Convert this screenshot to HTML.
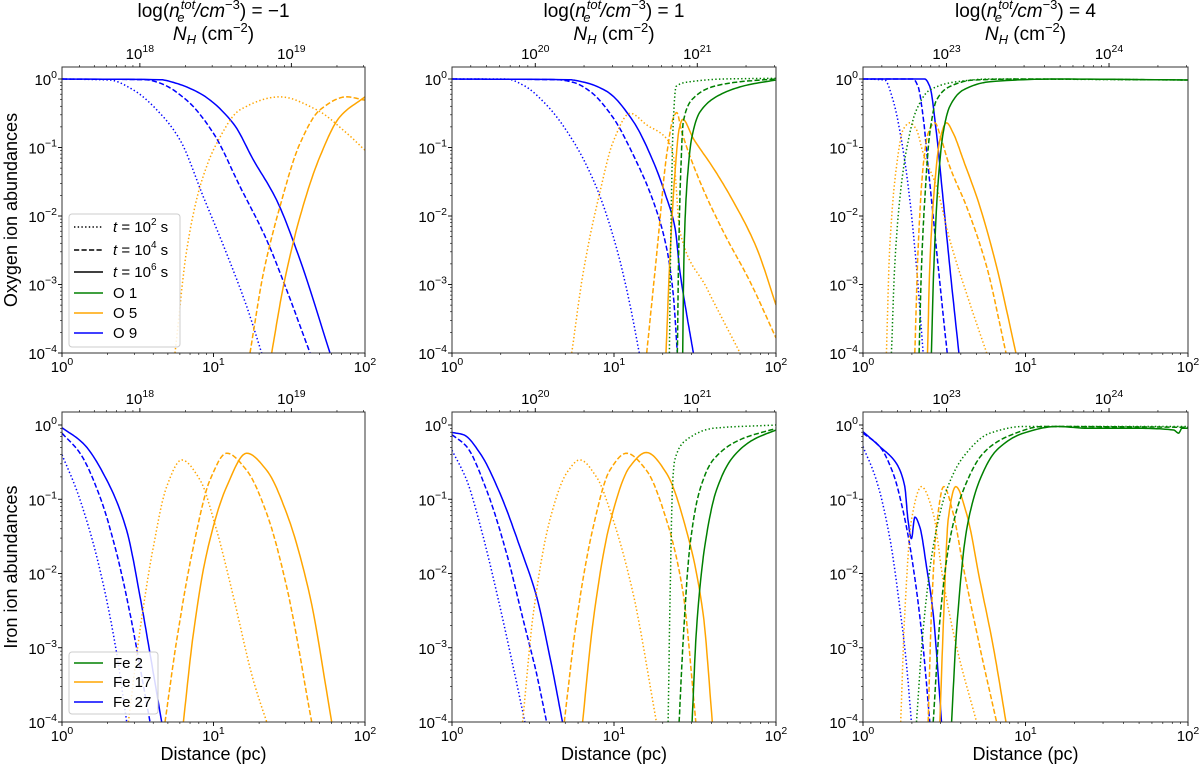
<!DOCTYPE html>
<html><head><meta charset="utf-8"><style>
html,body{margin:0;padding:0;background:#fff}
svg{display:block;font-family:"Liberation Sans","DejaVu Sans",sans-serif}
</style></head><body>
<svg id="fig" width="1200" height="766" viewBox="0 0 1200 766" xmlns="http://www.w3.org/2000/svg"></svg>
<script>
// ---- data: [log10 distance (pc), log10 abundance] ----
// Panel 1: Oxygen, log n = -1
const p1_O9_t2=[[0,0],[0.317,-0.015],[0.471,-0.16],[0.647,-0.5],[0.779,-0.89],[0.933,-1.72],[1.087,-2.55],[1.219,-3.32],[1.318,-4]];
const p1_O9_t4=[[0,0],[0.55,-0.01],[0.647,-0.06],[0.823,-0.31],[0.999,-0.79],[1.175,-1.57],[1.351,-2.35],[1.483,-3.08],[1.637,-4]];
const p1_O9_t6=[[0,0],[0.65,-0.01],[0.735,-0.05],[0.911,-0.21],[1.131,-0.65],[1.263,-1.18],[1.417,-1.77],[1.571,-2.64],[1.769,-4]];
const p1_O5_t2=[[0.746,-4],[0.823,-2.5],[0.911,-1.57],[1.021,-0.94],[1.175,-0.45],[1.439,-0.26],[1.681,-0.45],[1.879,-0.79],[2.0,-1.04]];
const p1_O5_t4=[[1.241,-4],[1.329,-2.84],[1.439,-1.86],[1.571,-0.94],[1.703,-0.45],[1.879,-0.26],[2.0,-0.31]];
const p1_O5_t6=[[1.384,-4],[1.461,-3.03],[1.571,-2.01],[1.703,-1.13],[1.835,-0.55],[2.0,-0.26]];
// Panel 2: Oxygen, log n = 1
const p2_O9_t2=[[0,0],[0.337,0],[0.44,-0.09],[0.584,-0.38],[0.749,-0.91],[0.893,-1.59],[1.016,-2.47],[1.099,-3.3],[1.156,-4]];
const p2_O9_t4=[[0,0],[0.65,-0.01],[0.75,-0.05],[0.852,-0.18],[0.996,-0.57],[1.119,-1.11],[1.243,-1.79],[1.325,-2.47],[1.366,-3.15],[1.391,-4]];
const p2_O9_t6=[[0,0],[0.72,-0.01],[0.82,-0.05],[0.955,-0.18],[1.119,-0.62],[1.243,-1.21],[1.325,-1.74],[1.377,-2.18],[1.407,-2.81],[1.449,-3.44],[1.49,-4]];
const p2_O5_t2=[[0.739,-4],[0.811,-2.81],[0.914,-1.64],[0.996,-0.91],[1.099,-0.5],[1.202,-0.67],[1.325,-0.87],[1.366,-1.11],[1.407,-2.23],[1.572,-3.05],[1.778,-4]];
const p2_O5_t4=[[1.202,-4],[1.263,-2.57],[1.325,-1.11],[1.366,-0.57],[1.387,-0.49],[1.418,-0.77],[1.531,-1.5],[1.675,-2.23],[1.84,-2.96],[2.0,-3.78]];
const p2_O5_t6=[[1.321,-4],[1.346,-2.57],[1.377,-1.35],[1.403,-0.72],[1.424,-0.59],[1.49,-0.87],[1.613,-1.3],[1.737,-1.79],[1.881,-2.47],[2.0,-3.3]];
const p2_O1_t2=[[1.342,-4],[1.352,-2.08],[1.366,-0.62],[1.383,-0.11],[1.469,-0.04],[1.675,0],[2.0,0.01]];
const p2_O1_t4=[[1.391,-4],[1.399,-2.57],[1.412,-1.35],[1.428,-0.62],[1.49,-0.28],[1.613,-0.11],[1.778,-0.04],[2.0,0]];
const p2_O1_t6=[[1.424,-4],[1.432,-2.57],[1.449,-1.59],[1.479,-0.87],[1.531,-0.48],[1.654,-0.23],[1.819,-0.09],[2.0,-0.015]];
// Panel 3: Oxygen, log n = 4
const p3_O9_t2=[[0,0],[0.134,-0.015],[0.185,-0.31],[0.247,-1.04],[0.288,-1.76],[0.329,-2.74],[0.37,-4]];
const p3_O9_t4=[[0,0],[0.308,0],[0.339,-0.11],[0.37,-0.55],[0.401,-1.28],[0.432,-2.01],[0.473,-2.98],[0.518,-4]];
const p3_O9_t6=[[0,0],[0.38,0],[0.411,-0.11],[0.452,-0.79],[0.493,-1.76],[0.534,-2.74],[0.59,-4]];
const p3_O5_t2=[[0.144,-4],[0.164,-2.49],[0.206,-1.28],[0.247,-0.74],[0.288,-0.64],[0.329,-0.74],[0.37,-1.08],[0.452,-1.57],[0.534,-2.35],[0.637,-3.13],[0.761,-4]];
const p3_O5_t4=[[0.319,-4],[0.339,-2.49],[0.37,-1.28],[0.401,-0.79],[0.442,-0.64],[0.483,-0.89],[0.534,-1.28],[0.637,-1.86],[0.761,-2.74],[0.88,-4]];
const p3_O5_t6=[[0.397,-4],[0.411,-2.74],[0.442,-1.52],[0.473,-0.89],[0.514,-0.64],[0.555,-0.79],[0.617,-1.18],[0.719,-1.86],[0.822,-2.74],[0.941,-4]];
const p3_O1_t2=[[0.175,-4],[0.195,-2.74],[0.226,-1.76],[0.267,-1.04],[0.329,-0.45],[0.411,-0.16],[0.576,-0.04],[0.781,0],[2.0,-0.015]];
const p3_O1_t4=[[0.345,-4],[0.36,-2.74],[0.38,-1.76],[0.411,-0.79],[0.452,-0.31],[0.534,-0.11],[0.678,-0.015],[0.987,0],[2.0,-0.015]];
const p3_O1_t6=[[0.421,-4],[0.436,-2.74],[0.462,-1.52],[0.493,-0.79],[0.534,-0.4],[0.617,-0.16],[0.781,-0.04],[1.192,0],[2.0,-0.015]];
// Panel 4: Iron, log n = -1
const p4_Fe27_t2=[[0,-0.4],[0.097,-0.88],[0.207,-1.6],[0.295,-2.36],[0.361,-3.08],[0.427,-4]];
const p4_Fe27_t4=[[0,-0.11],[0.119,-0.38],[0.251,-0.97],[0.361,-1.73],[0.449,-2.54],[0.515,-3.26],[0.581,-4]];
const p4_Fe27_t6=[[0,-0.036],[0.141,-0.25],[0.295,-0.74],[0.427,-1.42],[0.515,-2.31],[0.581,-3.08],[0.658,-4]];
const p4_Fe17_t2=[[0.438,-4],[0.515,-2.76],[0.603,-1.64],[0.691,-0.83],[0.79,-0.47],[0.911,-0.74],[1.021,-1.42],[1.131,-2.31],[1.263,-3.44],[1.351,-4]];
const p4_Fe17_t4=[[0.68,-4],[0.757,-2.9],[0.867,-1.64],[0.977,-0.74],[1.087,-0.38],[1.219,-0.61],[1.351,-1.19],[1.483,-2.18],[1.648,-4]];
const p4_Fe17_t6=[[0.801,-4],[0.867,-2.81],[0.955,-1.73],[1.087,-0.83],[1.219,-0.38],[1.351,-0.61],[1.483,-1.19],[1.637,-2.31],[1.78,-4]];
// Panel 5: Iron, log n = 1
const p5_Fe27_t2=[[0,-0.34],[0.09,-0.74],[0.193,-1.51],[0.296,-2.45],[0.378,-3.26],[0.45,-4]];
const p5_Fe27_t4=[[0,-0.13],[0.09,-0.29],[0.214,-0.88],[0.337,-1.73],[0.44,-2.63],[0.522,-3.35],[0.584,-4]];
const p5_Fe27_t6=[[0,-0.1],[0.07,-0.13],[0.173,-0.38],[0.296,-0.92],[0.419,-1.64],[0.522,-2.31],[0.604,-3.12],[0.682,-4]];
const p5_Fe17_t2=[[0.436,-4],[0.502,-2.54],[0.604,-1.28],[0.707,-0.65],[0.789,-0.47],[0.892,-0.7],[0.995,-1.28],[1.118,-2.27],[1.262,-4]];
const p5_Fe17_t4=[[0.693,-4],[0.769,-2.63],[0.872,-1.37],[0.974,-0.61],[1.077,-0.38],[1.2,-0.61],[1.324,-1.28],[1.427,-2.27],[1.505,-4]];
const p5_Fe17_t6=[[0.806,-4],[0.872,-2.63],[0.974,-1.33],[1.098,-0.56],[1.2,-0.37],[1.324,-0.65],[1.447,-1.42],[1.55,-2.54],[1.607,-4]];
const p5_Fe2_t2=[[1.334,-4],[1.348,-2.09],[1.361,-0.83],[1.375,-0.47],[1.447,-0.2],[1.612,-0.045],[2.0,0]];
const p5_Fe2_t4=[[1.402,-4],[1.427,-2.9],[1.468,-1.64],[1.529,-0.88],[1.612,-0.47],[1.776,-0.2],[2.0,-0.045]];
const p5_Fe2_t6=[[1.482,-4],[1.509,-2.76],[1.56,-1.64],[1.632,-0.88],[1.735,-0.43],[1.858,-0.2],[2.0,-0.067]];
// Panel 6: Iron, log n = 4
const p6_Fe27_t2=[[0,-0.29],[0.082,-0.74],[0.164,-1.51],[0.226,-2.45],[0.267,-3.21],[0.298,-4]];
const p6_Fe27_t4=[[0,-0.11],[0.103,-0.29],[0.185,-0.65],[0.267,-1.37],[0.329,-2.22],[0.37,-2.99],[0.411,-4]];
const p6_Fe27_t6=[[0,-0.09],[0.103,-0.29],[0.206,-0.52],[0.257,-0.83],[0.277,-1.28],[0.298,-1.53],[0.319,-1.24],[0.349,-1.37],[0.391,-1.91],[0.432,-2.54],[0.462,-3.35],[0.483,-4]];
const p6_Fe17_t2=[[0.232,-4],[0.257,-2.54],[0.298,-1.28],[0.36,-0.83],[0.432,-1.19],[0.493,-2.09],[0.576,-2.99],[0.699,-4]];
const p6_Fe17_t4=[[0.401,-4],[0.421,-2.54],[0.452,-1.37],[0.497,-0.83],[0.555,-1.19],[0.617,-1.91],[0.719,-2.99],[0.822,-4]];
const p6_Fe17_t6=[[0.473,-4],[0.497,-2.54],[0.524,-1.28],[0.571,-0.83],[0.637,-1.19],[0.719,-2.09],[0.802,-2.99],[0.88,-4]];
const p6_Fe2_t2=[[0.329,-4],[0.37,-2.76],[0.432,-1.64],[0.514,-0.88],[0.617,-0.43],[0.781,-0.11],[0.987,-0.02],[2.0,-0.02]];
const p6_Fe2_t4=[[0.432,-4],[0.473,-2.63],[0.534,-1.55],[0.617,-0.88],[0.74,-0.38],[0.884,-0.16],[1.11,-0.02],[2.0,-0.03]];
const p6_Fe2_t6=[[0.545,-4],[0.576,-2.76],[0.637,-1.42],[0.719,-0.74],[0.822,-0.34],[0.987,-0.11],[1.192,-0.02],[1.398,-0.045],[1.706,-0.045],[1.912,-0.067],[1.942,-0.11],[1.963,-0.045],[2.0,-0.045]];

const yTickLabels=["0","−1","−2","−3","−4"];
const xTickLabels=["0","1","2"];
const topTickLabels=[["18","19"],["20","21"],["23","24"]];
const densityLabels=["−1","1","4"];

// ---- layout ----
const NS="http://www.w3.org/2000/svg";
const svg=document.getElementById('fig');
const cols=[{x0:62,x1:365},{x0:452,x1:776},{x0:863,x1:1188}];
const rows=[{top:67,y0:79,y4:353},{top:412,y0:425,y4:722}];
const COL={O1:'#008000',Fe2:'#008000',O5:'#ffa500',Fe17:'#ffa500',O9:'#0000ff',Fe27:'#0000ff'};
const DASH={t2:'1.4,2.3',t4:'5.2,2.3',t6:''};
function el(t,a,p){const e=document.createElementNS(NS,t);for(const k in a)e.setAttribute(k,a[k]);(p||svg).appendChild(e);return e;}
function xs(c){return v=>c.x0+(c.x1-c.x0)*v/2;}
function ys(r){return v=>r.y0+(r.y4-r.y0)/4*(-v);}

// monotone cubic (Fritsch-Carlson) sampling in log space
function smooth(pts){
  const n=pts.length; if(n<3)return pts;
  const x=pts.map(p=>p[0]), y=pts.map(p=>p[1]);
  const h=[],d=[];
  for(let i=0;i<n-1;i++){h[i]=x[i+1]-x[i];d[i]=(y[i+1]-y[i])/h[i];}
  const m=new Array(n);
  m[0]=d[0];m[n-1]=d[n-2];
  for(let i=1;i<n-1;i++){
    if(d[i-1]*d[i]<=0)m[i]=0;
    else{const w1=2*h[i]+h[i-1],w2=h[i]+2*h[i-1];m[i]=(w1+w2)/(w1/d[i-1]+w2/d[i]);}
  }
  const out=[];
  for(let i=0;i<n-1;i++){
    const N=12;
    for(let k=0;k<N;k++){
      const t=k/N,t2=t*t,t3=t2*t;
      const h00=2*t3-3*t2+1,h10=t3-2*t2+t,h01=-2*t3+3*t2,h11=t3-t2;
      out.push([x[i]+t*h[i],h00*y[i]+h10*h[i]*m[i]+h01*y[i+1]+h11*h[i]*m[i+1]]);
    }
  }
  out.push(pts[n-1]);
  return out;
}

const panels=[
 {c:0,r:0,curves:{O9_t2:p1_O9_t2,O9_t4:p1_O9_t4,O9_t6:p1_O9_t6,O5_t2:p1_O5_t2,O5_t4:p1_O5_t4,O5_t6:p1_O5_t6}},
 {c:1,r:0,curves:{O9_t2:p2_O9_t2,O9_t4:p2_O9_t4,O9_t6:p2_O9_t6,O5_t2:p2_O5_t2,O5_t4:p2_O5_t4,O5_t6:p2_O5_t6,O1_t2:p2_O1_t2,O1_t4:p2_O1_t4,O1_t6:p2_O1_t6}},
 {c:2,r:0,curves:{O9_t2:p3_O9_t2,O9_t4:p3_O9_t4,O9_t6:p3_O9_t6,O5_t2:p3_O5_t2,O5_t4:p3_O5_t4,O5_t6:p3_O5_t6,O1_t2:p3_O1_t2,O1_t4:p3_O1_t4,O1_t6:p3_O1_t6}},
 {c:0,r:1,curves:{Fe27_t2:p4_Fe27_t2,Fe27_t4:p4_Fe27_t4,Fe27_t6:p4_Fe27_t6,Fe17_t2:p4_Fe17_t2,Fe17_t4:p4_Fe17_t4,Fe17_t6:p4_Fe17_t6}},
 {c:1,r:1,curves:{Fe27_t2:p5_Fe27_t2,Fe27_t4:p5_Fe27_t4,Fe27_t6:p5_Fe27_t6,Fe17_t2:p5_Fe17_t2,Fe17_t4:p5_Fe17_t4,Fe17_t6:p5_Fe17_t6,Fe2_t2:p5_Fe2_t2,Fe2_t4:p5_Fe2_t4,Fe2_t6:p5_Fe2_t6}},
 {c:2,r:1,curves:{Fe27_t2:p6_Fe27_t2,Fe27_t4:p6_Fe27_t4,Fe27_t6:p6_Fe27_t6,Fe17_t2:p6_Fe17_t2,Fe17_t4:p6_Fe17_t4,Fe17_t6:p6_Fe17_t6,Fe2_t2:p6_Fe2_t2,Fe2_t4:p6_Fe2_t4,Fe2_t6:p6_Fe2_t6}}
];

function sup(base,s,x,y,anchor,size){
  const tx=el('text',{x:x,y:y,'font-size':size||15,'text-anchor':anchor||'middle',fill:'#000'});
  tx.textContent=base;
  const sp=el('tspan',{dy:-7,'font-size':(size||15)*0.7},tx);sp.textContent=s;
  return tx;
}

panels.forEach((P,pi)=>{
  const c=cols[P.c], r=rows[P.r], X=xs(c), Y=ys(r);
  const g=el('g',{});
  
  
  const cid='clip'+pi;
  const cp=el('clipPath',{id:cid},g);
  el('rect',{x:c.x0,y:r.top,width:c.x1-c.x0,height:r.y4-r.top},cp);
  const cg=el('g',{'clip-path':'url(#'+cid+')'},g);
  for(const k in P.curves){
    const [ion,t]=k.split('_');
    const pts=smooth(P.curves[k]).map(p=>X(p[0]).toFixed(1)+','+Y(p[1]).toFixed(1)).join(' ');
    const pl=el('polyline',{points:pts,fill:'none',stroke:COL[ion],'stroke-width':1.5,'stroke-dasharray':DASH[t],'stroke-linejoin':'round'},cg);
    
    
  }
  const fr=el('rect',{x:c.x0,y:r.top,width:c.x1-c.x0,height:r.y4-r.top,fill:'none',stroke:'#333','stroke-width':1},g);
  
  
  for(let d=0;d<=4;d++){
    const y=Y(-d);
    el('line',{x1:c.x0-4,x2:c.x0,y1:y,y2:y,stroke:'#000','stroke-width':0.9},g);
    const t=sup('10',yTickLabels[d],c.x0-5,y+6,'end',15);
    
    
    for(let m=2;m<=9;m++){
      const v=-d-1+Math.log10(m);
      if(v<-4)continue;
      const ym=Y(v);
      el('line',{x1:c.x0-2,x2:c.x0,y1:ym,y2:ym,stroke:'#000','stroke-width':0.6},g);
    }
  }
  for(let d=0;d<=2;d++){
    const x=X(d);
    el('line',{x1:x,x2:x,y1:r.y4,y2:r.y4+4,stroke:'#000','stroke-width':0.9},g);
    const t=sup('10',xTickLabels[d],x,r.y4+19,'middle',15);
    
    
    if(d<2)for(let m=2;m<=9;m++){const xm=X(d+Math.log10(m));el('line',{x1:xm,x2:xm,y1:r.y4,y2:r.y4+2,stroke:'#000','stroke-width':0.6},g);}
  }
  const f0=0.257;
  const W=c.x1-c.x0;
  for(let d=-1;d<=1;d++){
    for(let m=1;m<=9;m++){
      const f=f0+0.5*(d+Math.log10(m));
      if(f<0||f>1)continue;
      const x=c.x0+W*f, major=(m===1);
      el('line',{x1:x,x2:x,y1:r.top,y2:r.top-(major?4:2),stroke:'#000','stroke-width':major?0.9:0.6},g);
      if(major&&d>=0){
        const t=sup('10',topTickLabels[P.c][d],x,r.top-8,'middle',15);
        
        
      }
    }
  }
});

cols.forEach((c,i)=>{
  const cx=(c.x0+c.x1)/2;
  const t=el('text',{x:cx,y:17,'font-size':19,'text-anchor':'middle'});
  
  
  t.innerHTML='log(<tspan font-style="italic">n</tspan><tspan font-style="italic" font-size="13" dx="1" dy="-8">tot</tspan><tspan font-style="italic" font-size="13" dx="-18" dy="13">e</tspan><tspan font-style="italic" dx="10" dy="-5">/cm</tspan><tspan font-size="13" dy="-8">−3</tspan><tspan dy="8">) = '+densityLabels[i]+'</tspan>';
  const n=el('text',{x:cx,y:40,'font-size':19,'text-anchor':'middle'});
  
  
  n.innerHTML='<tspan font-style="italic">N</tspan><tspan font-style="italic" font-size="13" dy="4">H</tspan><tspan dy="-4"> (cm</tspan><tspan font-size="13" dy="-8">−2</tspan><tspan dy="8">)</tspan>';
  const d=el('text',{x:cx,y:760,'font-size':18,'text-anchor':'middle'});
  
  
  d.textContent='Distance (pc)';
});
const yl1=el('text',{x:0,y:0,'font-size':18,'text-anchor':'middle',transform:'translate(17,210) rotate(-90)'});


yl1.textContent='Oxygen ion abundances';
const yl2=el('text',{x:0,y:0,'font-size':18,'text-anchor':'middle',transform:'translate(17,567) rotate(-90)'});


yl2.textContent='Iron ion abundances';

function legend(x,y,w,h,entries,name){
  const g=el('g',{});
  
  
  el('rect',{x:x,y:y,width:w,height:h,rx:3,fill:'#fff','fill-opacity':0.85,stroke:'#ccc','stroke-width':1},g);
  entries.forEach(e=>{
    el('line',{x1:x+5,x2:x+34,y1:e.y,y2:e.y,stroke:e.color,'stroke-width':1.5,'stroke-dasharray':e.dash},g);
    const t=el('text',{x:x+44,y:e.y+5,'font-size':15},g);
    
    
    t.innerHTML=e.label;
  });
}
const tl=n=>'<tspan font-style="italic">t</tspan> = 10<tspan font-size="10" dy="-7">'+n+'</tspan><tspan dy="7"> s</tspan>';
legend(69,214,111,133,[
 {y:227,color:'#000',dash:DASH.t2,label:tl(2)},
 {y:250,color:'#000',dash:DASH.t4,label:tl(4)},
 {y:272,color:'#000',dash:'',label:tl(6)},
 {y:293,color:'#008000',dash:'',label:'O 1'},
 {y:313,color:'#ffa500',dash:'',label:'O 5'},
 {y:333,color:'#0000ff',dash:'',label:'O 9'}],'legend-oxygen');
legend(69,652,89,62,[
 {y:663,color:'#008000',dash:'',label:'Fe 2'},
 {y:682,color:'#ffa500',dash:'',label:'Fe 17'},
 {y:702,color:'#0000ff',dash:'',label:'Fe 27'}],'legend-iron');
</script>
</body></html>
